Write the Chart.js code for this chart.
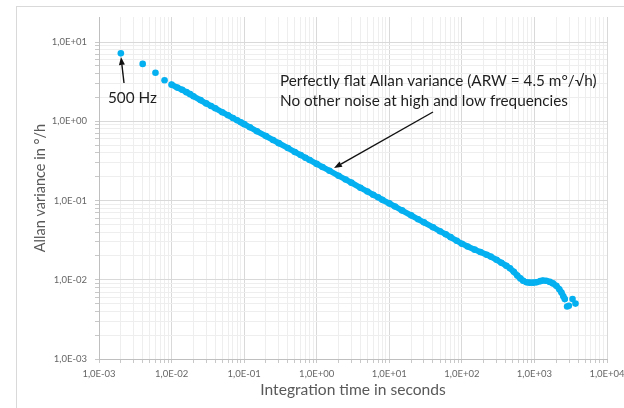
<!DOCTYPE html>
<html>
<head>
<meta charset="utf-8">
<title>Allan variance</title>
<script src="https://cdn.jsdelivr.net/npm/chart.js@4.4.1/dist/chart.umd.min.js"></script>
<style>
  html, body { margin: 0; padding: 0; background: #fff; }
  #wrap { width: 624px; height: 408px; }
</style>
</head>
<body>
<div id="wrap"><canvas id="myChart" width="624" height="408"></canvas></div>
<script>
// Integration time (s) and Allan values (deg/h)
const tauSeconds = [
  0.002, 0.004, 0.006, 0.008, 0.010, 0.012, 0.014, 0.016, 0.018, 0.020,
  0.025, 0.030, 0.035, 0.040, 0.050, 0.060, 0.070, 0.080, 0.090, 0.10,
  0.12, 0.15, 0.20, 0.25, 0.30, 0.40, 0.50, 0.60, 0.70, 0.80,
  1.0, 1.2, 1.5, 2.0, 2.5, 3.0, 4.0, 5.0, 6.0, 7.0,
  8.0, 10, 12, 15, 20, 25, 30, 40, 50, 60,
  70, 85, 100, 120, 150, 180, 220, 250, 300, 350,
  410, 460, 520, 580, 640, 700, 780, 860, 960, 1070,
  1200, 1300, 1450, 1630, 1800, 2000, 2200, 2360, 2500, 2620,
  2820, 2980, 3350, 3680
];
const allanValues = [
  7.2, 5.3, 4.1, 3.3, 2.9, 2.66, 2.5, 2.33, 2.2, 2.07,
  1.85, 1.68, 1.56, 1.46, 1.30, 1.19, 1.10, 1.03, 0.97, 0.92,
  0.84, 0.75, 0.65, 0.58, 0.53, 0.46, 0.41, 0.375, 0.347, 0.325,
  0.29, 0.265, 0.237, 0.205, 0.184, 0.168, 0.145, 0.130, 0.118, 0.110,
  0.102, 0.092, 0.084, 0.075, 0.065, 0.058, 0.053, 0.046, 0.041, 0.0375,
  0.0345, 0.031, 0.0285, 0.0263, 0.0240, 0.0224, 0.0207, 0.0196, 0.0179, 0.0164,
  0.0150, 0.0140, 0.0126, 0.0113, 0.0104, 0.0097, 0.0093, 0.0092, 0.0092, 0.0093,
  0.0096, 0.0098, 0.0097, 0.0094, 0.0090, 0.0084, 0.0076, 0.0069, 0.0062, 0.0057,
  0.0046, 0.0047, 0.0057, 0.0050
];

// tick values and their labels
const xMajorTicks = [1e-3, 1e-2, 1e-1, 1, 1e1, 1e2, 1e3, 1e4];
const xTickLabels = ['1,0E-03', '1,0E-02', '1,0E-01', '1,0E+00', '1,0E+01', '1,0E+02', '1,0E+03', '1,0E+04'];
const yMajorTicks = [1e-3, 1e-2, 1e-1, 1, 1e1];
const yTickLabels = ['1,0E-03', '1,0E-02', '1,0E-01', '1,0E+00', '1,0E+01'];

// first and last few dots stand apart, the rest form a solid band
const isolatedHead = 4;
const isolatedTail = 4;

const blue = '#05B0F0';
const labelFont = { family: 'Lato', size: 9.5 };

function majorIndex(majors, value) {
  return majors.findIndex(t => Math.abs(Math.log10(t) - Math.log10(value)) < 1e-6);
}

// major ticks plus 2..9 minors inside each decade
function logTicks(majors) {
  const out = [];
  majors.forEach((m, i) => {
    out.push({ value: m });
    if (i < majors.length - 1) {
      for (let k = 2; k <= 9; k++) out.push({ value: m * k });
    }
  });
  return out;
}

function gridColor(majors) {
  return ctx => (ctx.tick && majorIndex(majors, ctx.tick.value) >= 0) ? '#d9d9d9' : '#eeeeee';
}

// frame around the chart like the spreadsheet chart object
const framePlugin = {
  id: 'frame',
  beforeDraw(chart) {
    const ctx = chart.ctx;
    ctx.save();
    ctx.fillStyle = '#fff';
    ctx.fillRect(0, 0, chart.width, chart.height);
    ctx.strokeStyle = '#d9d9d9';
    ctx.lineWidth = 1;
    ctx.strokeRect(16.5, 6.5, 700, 500);
    ctx.restore();
  }
};

const notes = [
  { text: '500 Hz', x: 108, y: 98 },
  { text: 'Perfectly flat Allan variance (ARW = 4.5 m\u00B0/\u221Ah)', x: 280, y: 81 },
  { text: 'No other noise at high and low frequencies', x: 280, y: 101 }
];
const arrows = [
  { from: [124, 83], to: [121, 57] },
  { from: [433, 112], to: [334, 168] }
];

const notesPlugin = {
  id: 'notes',
  afterDatasetsDraw(chart) {
    const ctx = chart.ctx;
    ctx.save();
    ctx.fillStyle = '#1e1e1e';
    ctx.font = '15.3px Lato';
    ctx.textBaseline = 'middle';
    notes.forEach(n => ctx.fillText(n.text, n.x, n.y));

    ctx.strokeStyle = '#111';
    ctx.fillStyle = '#111';
    ctx.lineWidth = 1.4;
    arrows.forEach(a => {
      const [x0, y0] = a.from, [x1, y1] = a.to;
      const ang = Math.atan2(y1 - y0, x1 - x0);
      const len = 8, half = 3;
      const bx = x1 - len * Math.cos(ang), by = y1 - len * Math.sin(ang);
      ctx.beginPath();
      ctx.moveTo(x0, y0);
      ctx.lineTo(bx, by);
      ctx.stroke();
      ctx.beginPath();
      ctx.moveTo(x1, y1);
      ctx.lineTo(bx + half * Math.sin(ang), by - half * Math.cos(ang));
      ctx.lineTo(bx - half * Math.sin(ang), by + half * Math.cos(ang));
      ctx.closePath();
      ctx.fill();
    });
    ctx.restore();
  }
};

const points = tauSeconds.map((t, i) => ({ x: t, y: allanValues[i] }));
const n = points.length;

const ctx = document.getElementById('myChart').getContext('2d');
const myChart = new Chart(ctx, {
  type: 'scatter',
  data: {
    datasets: [{
      label: 'Allan variance',
      data: points,
      showLine: true,
      borderColor: blue,
      backgroundColor: blue,
      borderWidth: 5.8,
      borderCapStyle: 'round',
      borderJoinStyle: 'round',
      pointRadius: 3.3,
      pointBorderWidth: 0,
      pointBackgroundColor: blue,
      segment: {
        borderColor: c => (c.p1DataIndex <= isolatedHead || c.p1DataIndex >= n - isolatedTail) ? 'rgba(0,0,0,0)' : undefined
      }
    }]
  },
  options: {
    responsive: false,
    animation: false,
    devicePixelRatio: 1,
    layout: { padding: { top: 17, right: 17, left: 0, bottom: 0 } },
    plugins: {
      legend: { display: false },
      tooltip: { enabled: false }
    },
    scales: {
      x: {
        type: 'logarithmic',
        position: 'bottom',
        min: 1e-3,
        max: 1e4,
        bounds: 'data',
        afterBuildTicks: s => { s.ticks = logTicks(xMajorTicks); },
        afterFit: s => { s.height = 49; s.paddingLeft = 0; s.paddingRight = 0; },
        ticks: {
          autoSkip: false,
          maxRotation: 0,
          padding: 5,
          color: '#666',
          font: labelFont,
          callback: v => { const i = majorIndex(xMajorTicks, v); return i >= 0 ? xTickLabels[i] : ''; }
        },
        grid: { color: gridColor(xMajorTicks), tickColor: '#c8c8c8', tickLength: 4 },
        border: { color: '#bfbfbf' },
        title: {
          display: true,
          text: 'Integration time in seconds',
          color: '#595959',
          font: { family: 'Lato', size: 15.6 },
          padding: { top: 0, bottom: 8.6 }
        }
      },
      y: {
        type: 'logarithmic',
        position: 'left',
        min: 1e-3,
        max: 20.7,
        bounds: 'data',
        afterBuildTicks: s => { s.ticks = logTicks(yMajorTicks); },
        afterFit: s => { s.width = 99; s.paddingTop = 0; s.paddingBottom = 0; },
        ticks: {
          autoSkip: false,
          padding: 8,
          color: '#666',
          font: labelFont,
          callback: v => { const i = majorIndex(yMajorTicks, v); return i >= 0 ? yTickLabels[i] : ''; }
        },
        grid: { color: gridColor(yMajorTicks), tickColor: '#c8c8c8', tickLength: 4 },
        border: { color: '#bfbfbf' },
        title: {
          display: true,
          text: 'Allan variance in \u00B0/h',
          color: '#595959',
          font: { family: 'Lato', size: 14.5 },
          padding: { top: 31.3, bottom: 0 }
        }
      }
    }
  },
  plugins: [framePlugin, notesPlugin]
});
</script>
</body>
</html>
